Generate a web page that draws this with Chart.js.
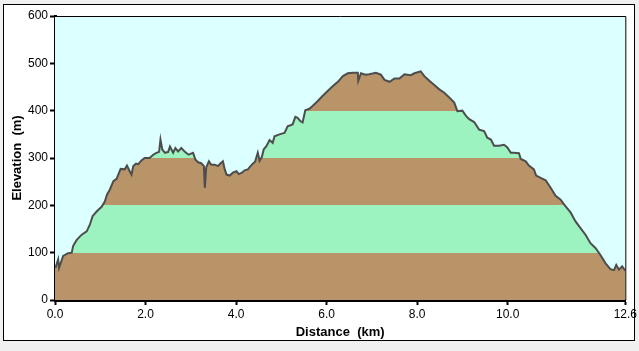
<!DOCTYPE html>
<html>
<head>
<meta charset="utf-8">
<script src="https://cdn.jsdelivr.net/npm/chart.js@4/dist/chart.umd.min.js"></script>
<style>
  html,body{margin:0;padding:0;background:#f0f0f0;}
  #panel{position:absolute;left:3px;top:4px;width:630px;height:335px;background:#fff;border:1px solid #000;}
  #c{position:absolute;left:0;top:0;}
</style>
</head>
<body>
<div id="panel"></div>
<canvas id="c" width="639" height="351"></canvas>
<script>
const distanceKm = [0.00,0.02,0.07,0.09,0.18,0.29,0.37,0.40,0.48,0.59,0.70,0.77,0.83,0.92,1.03,1.10,1.15,1.21,1.29,1.36,1.45,1.54,1.59,1.65,1.69,1.73,1.79,1.84,1.91,1.98,2.09,2.17,2.24,2.30,2.33,2.37,2.43,2.50,2.54,2.61,2.66,2.72,2.79,2.87,2.95,3.05,3.10,3.16,3.23,3.29,3.31,3.34,3.40,3.45,3.53,3.60,3.66,3.71,3.75,3.79,3.86,3.93,4.01,4.06,4.13,4.19,4.26,4.32,4.37,4.42,4.48,4.52,4.57,4.61,4.67,4.74,4.81,4.85,4.96,5.03,5.07,5.14,5.25,5.31,5.36,5.42,5.47,5.53,5.62,5.69,5.80,5.91,6.03,6.14,6.25,6.36,6.47,6.58,6.69,6.70,6.76,6.86,6.94,7.09,7.20,7.28,7.39,7.50,7.61,7.72,7.86,7.94,8.08,8.16,8.27,8.38,8.49,8.60,8.71,8.82,8.89,9.00,9.08,9.15,9.26,9.37,9.48,9.55,9.63,9.70,9.81,9.92,9.99,10.07,10.14,10.25,10.29,10.40,10.47,10.58,10.63,10.73,10.84,10.95,11.06,11.17,11.28,11.39,11.50,11.61,11.72,11.83,11.94,12.05,12.16,12.27,12.35,12.40,12.46,12.53,12.60];
const elevationM = [70,71,86,68,93,99,100,114,127,138,145,159,177,187,197,208,223,233,251,256,277,276,284,272,265,283,288,287,295,300,300,307,311,313,339,318,311,313,324,311,321,314,321,313,307,311,297,291,289,283,237,280,293,286,286,283,289,293,276,265,263,269,272,266,269,274,276,283,288,292,311,294,302,318,325,338,332,346,350,352,353,367,371,387,385,378,375,401,404,410,420,431,442,452,461,473,479,480,480,463,479,476,477,480,476,465,461,468,468,477,475,479,483,473,463,454,445,438,428,417,399,400,389,382,376,360,357,343,339,326,326,328,323,311,311,310,298,293,284,276,263,258,253,237,220,212,198,185,166,152,138,120,110,95,78,65,63,74,64,71,62];
const xTickValues = [0,2,4,6,8,10,12.6];
const yTickValues = [0,100,200,300,400,500,600];
const bandEdges = [0,100,200,300,400,500,600];

const BROWN = '#b99469', GREEN = '#9cf3c0', SKY = '#dcffff';
const FONT = "'Liberation Sans', Arial, sans-serif";

function bandFill(context){
  const chart = context.chart;
  const {ctx, chartArea, scales} = chart;
  if(!chartArea || !scales.y) return BROWN;
  const y = scales.y;
  const p0 = y.getPixelForValue(y.min), p1 = y.getPixelForValue(y.max);
  const g = ctx.createLinearGradient(0, p0, 0, p1);
  const span = y.max - y.min;
  for(let i=0;i<bandEdges.length-1;i++){
    const c = i % 2 ? GREEN : BROWN;
    g.addColorStop((bandEdges[i]-y.min)/span, c);
    g.addColorStop((bandEdges[i+1]-y.min)/span, c);
  }
  return g;
}

const frame = {
  id:'frame',
  beforeDatasetsDraw(chart){
    const {ctx, chartArea:a} = chart;
    ctx.save(); ctx.fillStyle = SKY;
    ctx.fillRect(a.left, a.top, a.right-a.left, a.bottom-a.top);
    ctx.restore();
  },
  afterDraw(chart){
    const {ctx, chartArea:a} = chart;
    ctx.save(); ctx.strokeStyle='#000'; ctx.lineWidth=1;
    ctx.beginPath();
    ctx.moveTo(a.left, a.top+0.5); ctx.lineTo(a.right+0.5, a.top+0.5);
    ctx.lineTo(a.right+0.5, a.bottom);
    ctx.stroke(); ctx.restore();
  }
};

new Chart(document.getElementById('c'), {
  type:'line',
  data:{
    datasets:[{
      data: distanceKm.map((d,i)=>({x:d, y:elevationM[i]})),
      borderColor:'#4d4d4d',
      borderWidth:2,
      pointRadius:0,
      tension:0,
      fill:'origin',
      backgroundColor: bandFill
    }]
  },
  options:{
    responsive:false,
    animation:false,
    devicePixelRatio:1,
    layout:{padding:{left:4,right:11,top:16,bottom:6}},
    plugins:{legend:{display:false}, tooltip:{enabled:false}},
    scales:{
      x:{
        type:'linear', min:0, max:12.6,
        afterBuildTicks(s){ s.ticks = xTickValues.map(v=>({value:v})); },
        afterFit(s){ s.height = 45; },
        ticks:{ color:'#000', font:{family:FONT,size:12}, padding:2, maxRotation:0, autoSkip:false,
          callback:(v)=>Number(v).toFixed(1) },
        grid:{ drawOnChartArea:false, drawTicks:true, tickLength:5, tickWidth:2, tickColor:'#000' },
        border:{ display:true, color:'#000', width:3 },
        title:{ display:true, text:'Distance  (km)', color:'#000', font:{family:FONT,size:13,weight:'bold'}, padding:{top:0,bottom:5} }
      },
      y:{
        type:'linear', min:0, max:600,
        afterBuildTicks(s){ s.ticks = yTickValues.map(v=>({value:v})); },
        afterFit(s){ s.width = 51; },
        ticks:{ color:'#000', font:{family:FONT,size:12}, padding:2 },
        grid:{ drawOnChartArea:false, drawTicks:true, tickLength:5, tickWidth:2, tickColor:'#000' },
        border:{ display:true, color:'#000', width:3 },
        title:{ display:true, text:'Elevation  (m)', color:'#000', font:{family:FONT,size:13,weight:'bold'}, padding:{top:6,bottom:0} }
      }
    }
  },
  plugins:[frame]
});
</script>
</body>
</html>
